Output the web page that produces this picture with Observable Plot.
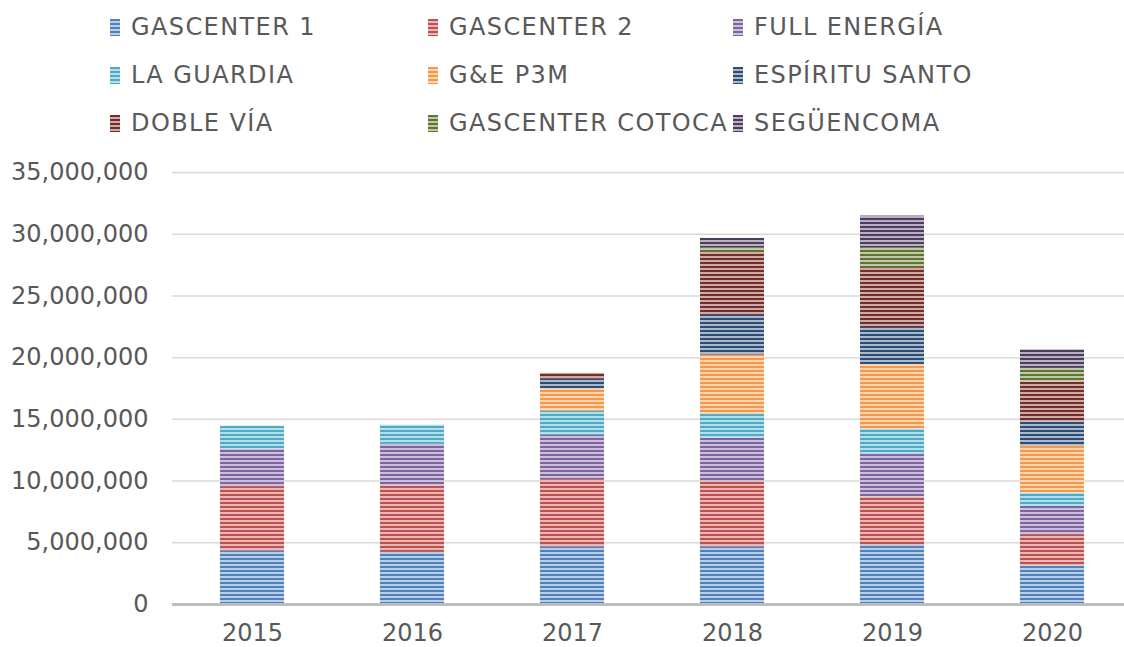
<!DOCTYPE html>
<html>
<head>
<meta charset="utf-8">
<script src="https://cdn.jsdelivr.net/npm/d3@7"></script>
<script src="https://cdn.jsdelivr.net/npm/@observablehq/plot@0.6"></script>
<style>
  html, body { margin: 0; padding: 0; background: #fff; }
  body { width: 1124px; height: 647px; overflow: hidden; font-family: "DejaVu Sans", Verdana, sans-serif; }
  #legend { position: relative; width: 1124px; height: 150px; }
  .item { position: absolute; display: flex; align-items: center; font-size: 24px; color: #595959; letter-spacing: 1.4px; white-space: nowrap; }
  .sw { width: 10px; height: 17px; margin-right: 11px; flex: none; }
</style>
</head>
<body>
<div id="legend"></div>
<div id="chart"></div>
<script>
const years = ["2015", "2016", "2017", "2018", "2019", "2020"];
const seriesNames = ["GASCENTER 1", "GASCENTER 2", "FULL ENERGÍA", "LA GUARDIA", "G&E P3M", "ESPÍRITU SANTO", "DOBLE VÍA", "GASCENTER COTOCA", "SEGÜENCOMA"];
const gascenter1 = [4330000, 4220000, 4670000, 4670000, 4790000, 3120000];
const gascenter2 = [5220000, 5410000, 5440000, 5280000, 3910000, 2540000];
const fullEnergia = [3030000, 3350000, 3590000, 3510000, 3450000, 2290000];
const laGuardia = [1870000, 1550000, 1950000, 1930000, 2080000, 1070000];
const geP3M = [0, 0, 1830000, 4820000, 5200000, 3800000];
const espirituSanto = [0, 0, 770000, 3210000, 3010000, 1940000];
const dobleVia = [0, 0, 480000, 5090000, 4850000, 3240000];
const gascenterCotoca = [0, 0, 0, 400000, 1620000, 1130000];
const seguencoma = [0, 0, 0, 750000, 2560000, 1510000];
const yTicks = [0, 5000000, 10000000, 15000000, 20000000, 25000000, 30000000, 35000000];

const colors = ["#4F81BD", "#C0504D", "#8064A2", "#4BACC6", "#F79646", "#2C4D75", "#772C2A", "#5F7530", "#4D3B62"];
const seriesValues = [gascenter1, gascenter2, fullEnergia, laGuardia, geP3M, espirituSanto, dobleVia, gascenterCotoca, seguencoma];

const data = [];
seriesNames.forEach((s, i) => {
  years.forEach((y, j) => {
    data.push({ series: s, year: y, value: seriesValues[i][j] });
  });
});

function tint(c, t) {
  const col = d3.rgb(c);
  return d3.rgb(col.r + (255 - col.r) * t, col.g + (255 - col.g) * t, col.b + (255 - col.b) * t).formatHex();
}

// Legend
const legend = document.getElementById("legend");
const colX = [110, 428, 733];
const rowY = [27, 75, 123];
seriesNames.forEach((s, i) => {
  const it = document.createElement("div");
  it.className = "item";
  it.style.left = colX[i % 3] + "px";
  it.style.top = (rowY[Math.floor(i / 3)] - 15) + "px";
  it.style.height = "30px";
  const sw = document.createElement("div");
  sw.className = "sw";
  const c = colors[i], l = tint(c, 0.6);
  sw.style.background = `repeating-linear-gradient(to bottom, ${c} 0px, ${c} 2px, ${l} 2px, ${l} 4px)`;
  const tx = document.createElement("span");
  tx.textContent = s;
  it.appendChild(sw);
  it.appendChild(tx);
  legend.appendChild(it);
});

const chart = Plot.plot({
  width: 1124,
  height: 497,
  marginLeft: 172,
  marginRight: 0,
  marginTop: 22,
  marginBottom: 43,
  style: { fontFamily: "DejaVu Sans, Verdana, sans-serif", fontSize: "24px", color: "#595959", background: "#fff", overflow: "visible" },
  x: { domain: years, range: [172, 1132], paddingInner: 0.6, paddingOuter: 0.3, label: null, tickSize: 0, tickPadding: 19 },
  y: { domain: [0, 35000000], label: null, ticks: yTicks, tickSize: 0, tickPadding: 24, tickFormat: d3.format(",") },
  color: { domain: seriesNames, range: seriesNames.map((s, i) => `url(#pat${i})`) },
  marks: [
    Plot.gridY(yTicks, { stroke: "#D9D9D9", strokeOpacity: 1, strokeWidth: 1.5 }),
    Plot.barY(data, { x: "year", y: "value", fill: "series", inset: 0 }),
    Plot.ruleY([0], { stroke: "#BFBFBF", strokeWidth: 3 })
  ]
});

const ns = "http://www.w3.org/2000/svg";
const defs = document.createElementNS(ns, "defs");
colors.forEach((c, i) => {
  const p = document.createElementNS(ns, "pattern");
  p.setAttribute("id", "pat" + i);
  p.setAttribute("patternUnits", "userSpaceOnUse");
  p.setAttribute("width", "8");
  p.setAttribute("height", "4");
  const r1 = document.createElementNS(ns, "rect");
  r1.setAttribute("width", "8"); r1.setAttribute("height", "4"); r1.setAttribute("fill", tint(c, 0.6));
  const r2 = document.createElementNS(ns, "rect");
  r2.setAttribute("width", "8"); r2.setAttribute("height", "2"); r2.setAttribute("fill", c);
  p.appendChild(r1); p.appendChild(r2);
  defs.appendChild(p);
});
chart.insertBefore(defs, chart.firstChild);
document.getElementById("chart").appendChild(chart);
</script>
</body>
</html>
